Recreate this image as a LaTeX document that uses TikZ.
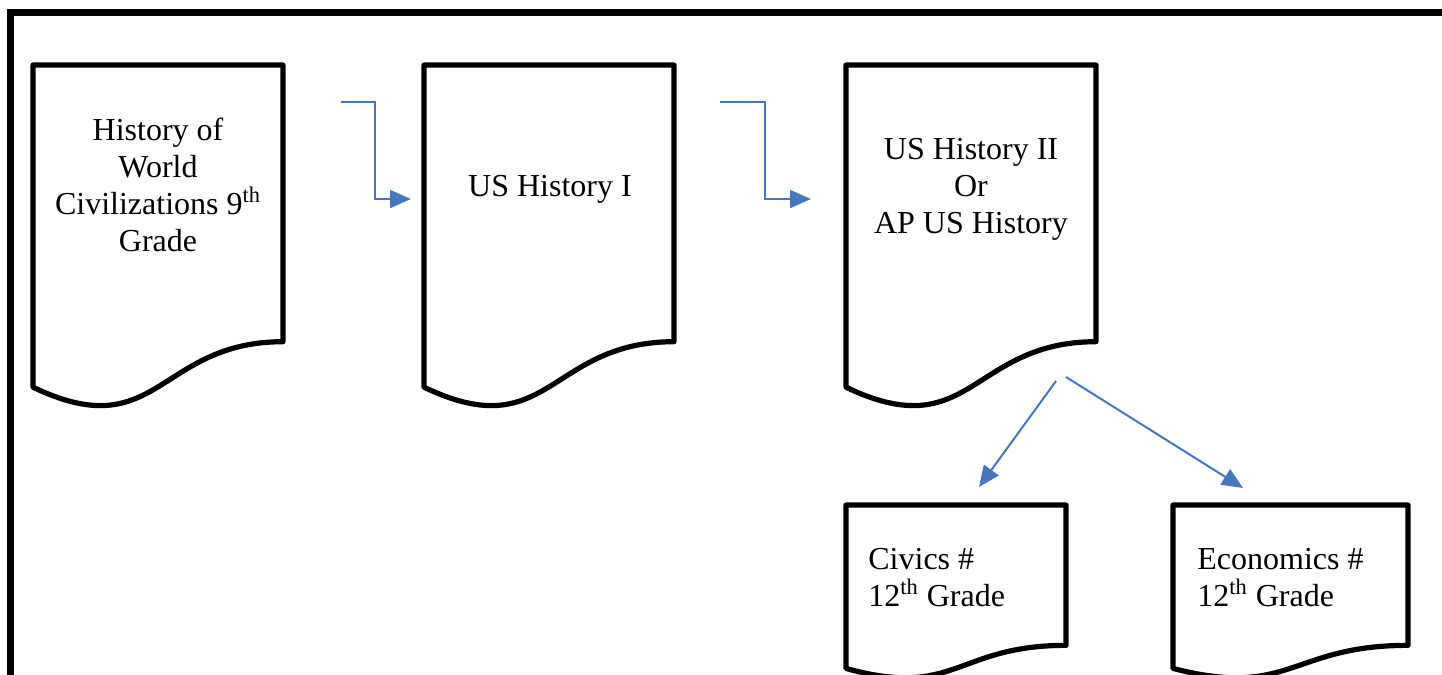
\documentclass[tikz,border=0pt]{standalone}
\usepackage{fontspec}
\setmainfont{Liberation Serif}
\usetikzlibrary{arrows.meta}
\definecolor{conn}{RGB}{70,118,190}
\newcommand\docshape[4]{%
  \draw[docline] (#1,#2) -- (#1+#3,#2) -- (#1+#3,#2+0.802*#4)
    .. controls (#1+#3/2,#2+0.802*#4) and (#1+#3/2,#2+1.1075*#4) .. (#1,#2+0.9339*#4) -- cycle;}
\begin{document}
\begin{tikzpicture}[x=0.5pt,y=-0.5pt,
  docline/.style={line width=2.6pt,line join=round,draw=black},
  frameline/.style={line width=3.8pt},
  label/.style={font=\fontsize{16}{18.5}\selectfont,inner sep=0pt},
  conn/.style={draw=conn,line width=1pt,-{Triangle[length=10.5pt,width=9pt]}}]
\useasboundingbox (0,0) rectangle (1442,675);
% frame
\draw[frameline] (10.5,700) -- (10.5,12.3) -- (1460,12.3);
% documents
\docshape{33}{65}{250}{345}
\docshape{424}{65}{250}{345}
\docshape{846}{65}{250}{345}
\docshape{846}{505}{220}{175}
\docshape{1173}{505}{235}{175}
% texts
\node[label,align=center] (hwc) at (158,185) {History of\\World\\Civilizations 9\textsuperscript{th}\\Grade};
\node[label,align=center] (us1) at (550,189) {US History I};
\node[label,align=center] (us2) at (971,189) {US History II\\Or\\AP US History};
\node[label,align=left,anchor=west] (civ) at (868,578) {Civics \#\\12\textsuperscript{th} Grade};
\node[label,align=left,anchor=west] (eco) at (1197,578) {Economics \#\\12\textsuperscript{th} Grade};
% connector ends
\coordinate (a1s) at (341,102);
\coordinate (a1e) at (411,199);
\coordinate (a2s) at (720,102);
\coordinate (a2e) at (811,199);
\coordinate (a3s) at (1056,381);
\coordinate (a3e) at (979,487);
\coordinate (a4s) at (1066,377);
\coordinate (a4e) at (1243,488);
\draw[conn] (a1s) -- (375,102) -- (375,199) -- (a1e);
\draw[conn] (a2s) -- (765,102) -- (765,199) -- (a2e);
\draw[conn] (a3s) -- (a3e);
\draw[conn] (a4s) -- (a4e);
\end{tikzpicture}
\end{document}
